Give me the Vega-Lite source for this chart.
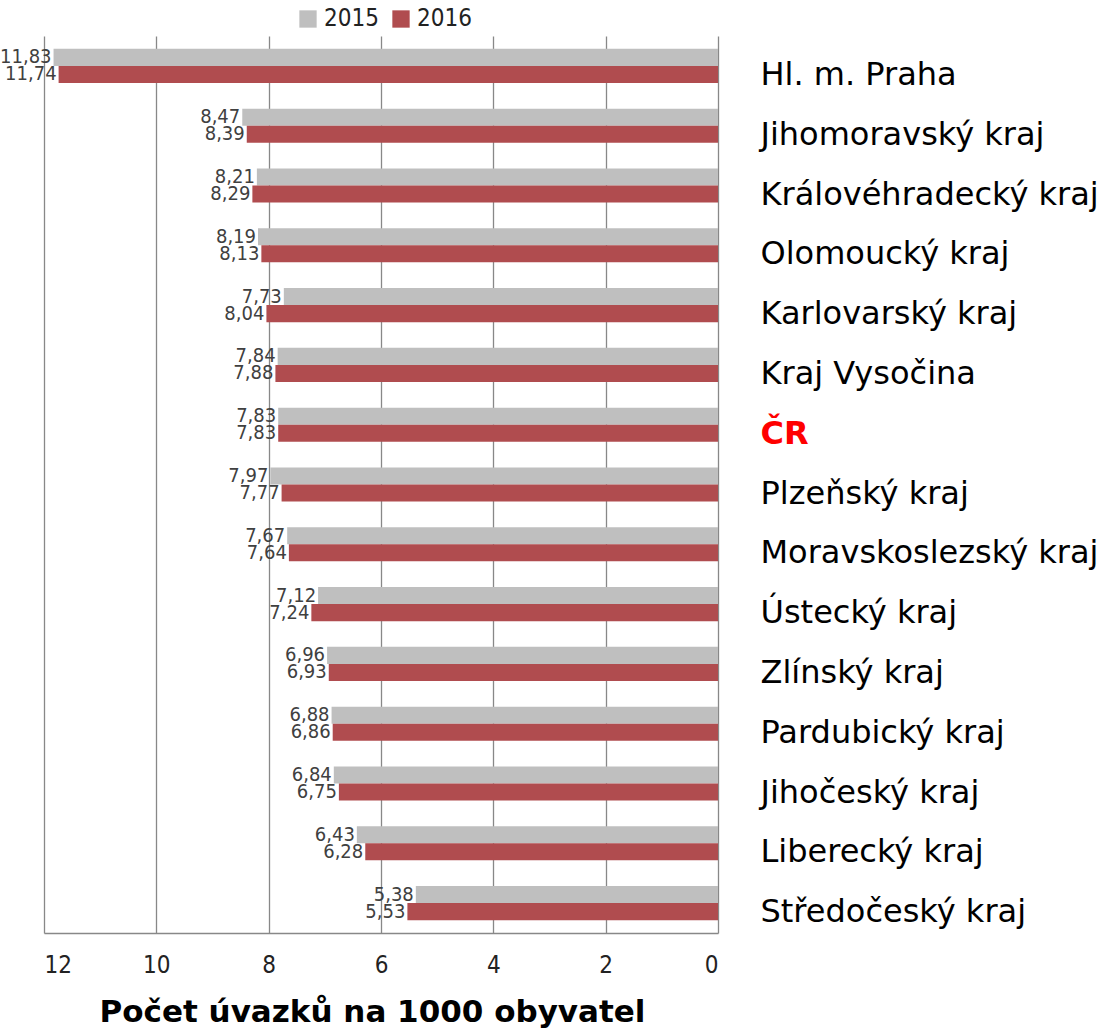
{
  "$schema": "https://vega.github.io/schema/vega-lite/v6.json",
  "width": 674,
  "height": 897,
  "autosize": {"type": "none"},
  "padding": {"left": 44, "top": 36, "right": 392, "bottom": 102},
  "config": {
    "locale": {"number": {"decimal": ",", "thousands": " ", "grouping": [3], "currency": ["", ""]}},
    "view": {"stroke": null}
  },
  "data": {
    "values": [
      {"kraj": "Hl. m. Praha", "rok": "2015", "hodnota": 11.83},
      {"kraj": "Hl. m. Praha", "rok": "2016", "hodnota": 11.74},
      {"kraj": "Jihomoravský kraj", "rok": "2015", "hodnota": 8.47},
      {"kraj": "Jihomoravský kraj", "rok": "2016", "hodnota": 8.39},
      {"kraj": "Královéhradecký kraj", "rok": "2015", "hodnota": 8.21},
      {"kraj": "Královéhradecký kraj", "rok": "2016", "hodnota": 8.29},
      {"kraj": "Olomoucký kraj", "rok": "2015", "hodnota": 8.19},
      {"kraj": "Olomoucký kraj", "rok": "2016", "hodnota": 8.13},
      {"kraj": "Karlovarský kraj", "rok": "2015", "hodnota": 7.73},
      {"kraj": "Karlovarský kraj", "rok": "2016", "hodnota": 8.04},
      {"kraj": "Kraj Vysočina", "rok": "2015", "hodnota": 7.84},
      {"kraj": "Kraj Vysočina", "rok": "2016", "hodnota": 7.88},
      {"kraj": "ČR", "rok": "2015", "hodnota": 7.83},
      {"kraj": "ČR", "rok": "2016", "hodnota": 7.83},
      {"kraj": "Plzeňský kraj", "rok": "2015", "hodnota": 7.97},
      {"kraj": "Plzeňský kraj", "rok": "2016", "hodnota": 7.77},
      {"kraj": "Moravskoslezský kraj", "rok": "2015", "hodnota": 7.67},
      {"kraj": "Moravskoslezský kraj", "rok": "2016", "hodnota": 7.64},
      {"kraj": "Ústecký kraj", "rok": "2015", "hodnota": 7.12},
      {"kraj": "Ústecký kraj", "rok": "2016", "hodnota": 7.24},
      {"kraj": "Zlínský kraj", "rok": "2015", "hodnota": 6.96},
      {"kraj": "Zlínský kraj", "rok": "2016", "hodnota": 6.93},
      {"kraj": "Pardubický kraj", "rok": "2015", "hodnota": 6.88},
      {"kraj": "Pardubický kraj", "rok": "2016", "hodnota": 6.86},
      {"kraj": "Jihočeský kraj", "rok": "2015", "hodnota": 6.84},
      {"kraj": "Jihočeský kraj", "rok": "2016", "hodnota": 6.75},
      {"kraj": "Liberecký kraj", "rok": "2015", "hodnota": 6.43},
      {"kraj": "Liberecký kraj", "rok": "2016", "hodnota": 6.28},
      {"kraj": "Středočeský kraj", "rok": "2015", "hodnota": 5.38},
      {"kraj": "Středočeský kraj", "rok": "2016", "hodnota": 5.53}
    ]
  },
  "encoding": {
    "y": {
      "field": "kraj", "type": "nominal", "sort": null,
      "scale": {"paddingInner": 0.43, "paddingOuter": 0.215},
      "axis": {
        "orient": "right", "title": null, "domain": false, "ticks": false,
        "labelPadding": 42, "labelFont": "DejaVu Sans", "labelFontSize": 32,
        "labelOffset": 9,
        "labelColor": {"condition": {"test": "datum.value === 'ČR'", "value": "#FF0000"}, "value": "#000000"},
        "labelFontWeight": {"condition": {"test": "datum.value === 'ČR'", "value": "bold"}, "value": "normal"},
        "labelLimit": 500
      }
    },
    "yOffset": {"field": "rok", "type": "nominal", "sort": ["2015", "2016"], "scale": {"paddingInner": 0}},
    "x": {
      "field": "hodnota", "type": "quantitative",
      "scale": {"domain": [0, 12], "reverse": true, "nice": false},
      "axis": {
        "values": [0, 2, 4, 6, 8, 10, 12], "format": "d",
        "title": "Počet úvazků na 1000 obyvatel",
        "titleFont": "DejaVu Sans", "titleFontSize": 31, "titleFontWeight": "bold", "titleColor": "#000000",
        "titlePadding": 20, "titleX": 328,
        "labelFont": "DejaVu Sans Condensed", "labelFontSize": 24, "labelColor": "#222222",
        "labelPadding": 20, "ticks": false,
        "domainColor": "#888888", "domainWidth": 1.5,
        "grid": true, "gridColor": "#888888", "gridWidth": 1.3
      }
    }
  },
  "layer": [
    {
      "mark": {"type": "bar"},
      "encoding": {
        "color": {
          "field": "rok", "type": "nominal",
          "scale": {"domain": ["2015", "2016"], "range": ["#BFBFBF", "#B04C4F"]},
          "legend": {
            "orient": "none", "legendX": 252, "legendY": -29, "direction": "horizontal",
            "title": null, "symbolType": "square", "symbolSize": 300, "symbolStrokeWidth": 0,
            "labelFont": "DejaVu Sans Condensed", "labelFontSize": 24, "labelColor": "#222222",
            "columnPadding": 10, "labelOffset": 4
          }
        }
      }
    },
    {
      "mark": {"type": "text", "align": "right", "baseline": "middle", "dx": -2, "font": "DejaVu Sans Condensed", "fontSize": 20, "color": "#404040"},
      "encoding": {
        "text": {"field": "hodnota", "type": "quantitative", "format": ".2f"}
      }
    }
  ]
}
